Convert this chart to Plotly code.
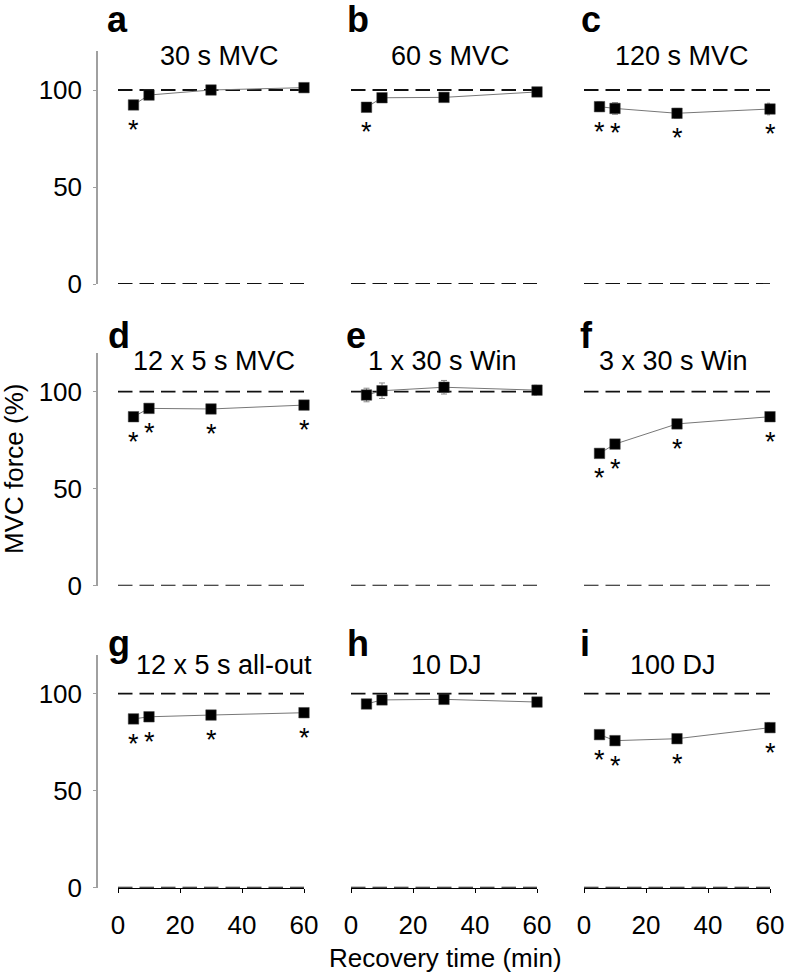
import plotly.graph_objects as go

# 회복 시간 (min)
time_min = [5, 10, 30, 60]

panel_letters = ["a", "b", "c", "d", "e", "f", "g", "h", "i"]
panel_titles = ["30 s MVC", "60 s MVC", "120 s MVC",
                "12 x 5 s MVC", "1 x 30 s Win", "3 x 30 s Win",
                "12 x 5 s all-out", "10 DJ", "100 DJ"]

# MVC force (%) 평균값
mvc_30s = [92.3, 97.4, 100.0, 101.2]
mvc_60s = [91.1, 96.0, 96.2, 99.0]
mvc_120s = [91.4, 90.5, 88.0, 90.2]
mvc_12x5s = [87.1, 91.4, 91.1, 93.1]
win_1x30s = [98.3, 100.5, 102.3, 100.8]
win_3x30s = [68.2, 73.0, 83.4, 87.1]
allout_12x5s = [87.0, 88.1, 89.0, 90.2]
dj_10 = [94.7, 96.8, 97.1, 95.7]
dj_100 = [78.9, 75.8, 76.8, 82.5]

# 오차 막대 (SE)
err_30s = [1.5, 1.2, 1.5, 1.2]
err_60s = [1.5, 1.2, 1.5, 1.5]
err_120s = [2.5, 3.0, 2.5, 3.0]
err_12x5s = [1.2, 1.0, 1.2, 1.5]
err_1x30s = [3.5, 4.0, 3.5, 2.5]
err_3x30s = [1.5, 1.5, 1.5, 1.5]
err_allout = [2.0, 1.5, 1.5, 1.5]
err_dj10 = [1.5, 1.5, 1.5, 1.5]
err_dj100 = [1.5, 2.0, 1.5, 2.5]

# 유의차 표시 (*)
sig_30s = [1, 0, 0, 0]
sig_60s = [1, 0, 0, 0]
sig_120s = [1, 1, 1, 1]
sig_12x5s = [1, 1, 1, 1]
sig_1x30s = [0, 0, 0, 0]
sig_3x30s = [1, 1, 1, 1]
sig_allout = [1, 1, 1, 1]
sig_dj10 = [0, 0, 0, 0]
sig_dj100 = [1, 1, 1, 1]

values = [mvc_30s, mvc_60s, mvc_120s, mvc_12x5s, win_1x30s, win_3x30s,
          allout_12x5s, dj_10, dj_100]
errors = [err_30s, err_60s, err_120s, err_12x5s, err_1x30s, err_3x30s,
          err_allout, err_dj10, err_dj100]
sigs = [sig_30s, sig_60s, sig_120s, sig_12x5s, sig_1x30s, sig_3x30s,
        sig_allout, sig_dj10, sig_dj100]

W, H = 786, 978
FONT = "Liberation Sans, Arial, sans-serif"

# 픽셀 단위 레이아웃
col_left = [118, 351, 584]
col_right = [304, 537, 770]
row_zero = [284, 585.7, 887.7]
px_per_unit = 1.94
y_max = 120
yaxis_line_x = 97

title_y = [117.5, 115.8, 114.8]
title_shift = [8, 6, 5, 3, -2, -4, 13, 2, -4]
# 패널 문자 위치 (px, 왼쪽 / 아래 기준)
letter_left = [105, 345, 579, 106, 344, 578, 106, 345, 578]
letter_bottom = [42, 358, 666]

fig = go.Figure()
annotations = []
shapes = []
layout_axes = {}

for k in range(9):
    r, c = divmod(k, 3)
    n = "" if k == 0 else str(k + 1)
    xa, ya = "x" + n, "y" + n

    fig.add_trace(go.Scatter(
        x=time_min, y=values[k], xaxis=xa, yaxis=ya,
        mode="lines+markers",
        line=dict(color="#777777", width=1),
        marker=dict(symbol="square", size=10.5, color="black",
                    line=dict(color="#444444", width=0.5)),
        error_y=dict(type="data", array=errors[k], color="#888888",
                     thickness=1, width=3),
        cliponaxis=False, showlegend=False,
    ))

    y0_px = row_zero[r]
    ytop_px = y0_px - y_max * px_per_unit
    layout_axes["xaxis" + n] = dict(
        domain=[col_left[c] / W, col_right[c] / W], range=[0, 60],
        anchor=ya, showgrid=False, zeroline=False, automargin=False,
        showline=(r == 2), linecolor="black", linewidth=1,
        ticks="outside" if r == 2 else "", ticklen=4, tickcolor="black",
        tickvals=[0, 20, 40, 60], showticklabels=(r == 2),
        tickfont=dict(size=26, color="black", family=FONT),
        ticklabelstandoff=10,
    )
    ydict = dict(
        domain=[1 - y0_px / H, 1 - ytop_px / H], range=[0, y_max],
        anchor=xa, showgrid=False, zeroline=False, automargin=False,
        showline=(c == 0), linecolor="#a0a0a0", linewidth=1.5,
        ticks="outside" if c == 0 else "", ticklen=3, tickcolor="#a0a0a0",
        tickvals=[0, 50, 100], showticklabels=(c == 0),
        tickfont=dict(size=26, color="black", family=FONT),
        ticklabelstandoff=6,
    )
    if c == 0:
        ydict.update(anchor="free", position=yaxis_line_x / W)
    layout_axes["yaxis" + n] = ydict

    # 기준선 (100%, 0%)
    for yv in (100, 0):
        shapes.append(dict(type="line", xref=xa, yref=ya, x0=0, x1=60, y0=yv, y1=yv,
                           line=dict(color="#111111", width=1.8, dash="14.5px,7px"),
                           layer="below"))

    # 패널 제목, 문자
    annotations.append(dict(xref=xa, yref=ya, x=30, y=title_y[r], xshift=title_shift[k],
                            xanchor="center", yanchor="middle",
                            text=panel_titles[k], showarrow=False,
                            font=dict(size=27, color="black", family=FONT)))
    annotations.append(dict(xref="paper", yref="paper",
                            x=letter_left[k] / W, y=1 - letter_bottom[r] / H,
                            xanchor="left", yanchor="bottom",
                            text="<b>%s</b>" % panel_letters[k], showarrow=False,
                            font=dict(size=36, color="black", family=FONT)))

    for t, v, s in zip(time_min, values[k], sigs[k]):
        if s:
            annotations.append(dict(xref=xa, yref=ya, x=t, y=v, yshift=-25,
                                    xanchor="center", yanchor="middle",
                                    text="*", showarrow=False,
                                    font=dict(size=27, color="black", family=FONT)))

# 축 제목
annotations.append(dict(xref="paper", yref="paper", x=14 / W, y=1 - 469 / H,
                        xanchor="center", yanchor="middle",
                        text="MVC force (%)", textangle=-90, showarrow=False,
                        font=dict(size=26, color="black", family=FONT)))
annotations.append(dict(xref="paper", yref="paper", x=445 / W, y=1 - 958 / H,
                        xanchor="center", yanchor="middle",
                        text="Recovery time (min)", showarrow=False,
                        font=dict(size=26, color="black", family=FONT)))

fig.update_layout(
    width=W, height=H,
    margin=dict(l=0, r=0, t=0, b=0, autoexpand=False),
    paper_bgcolor="white", plot_bgcolor="white",
    showlegend=False,
    annotations=annotations, shapes=shapes,
    **layout_axes,
)

# 페이지 기본 여백 제거 (그림이 창에 꼭 맞도록)
fig.write_html("out.html", config={"displayModeBar": False},
               post_script="document.body.style.margin='0';document.body.style.overflow='hidden';")
